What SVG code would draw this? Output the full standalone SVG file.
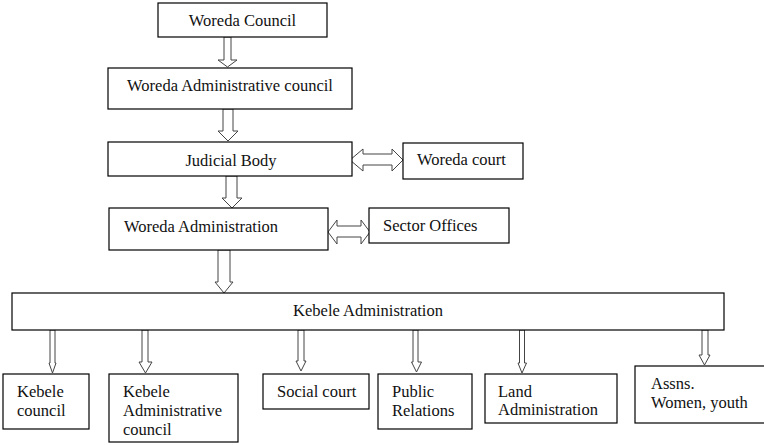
<svg xmlns="http://www.w3.org/2000/svg" width="764" height="445" viewBox="0 0 764 445">
<style>
.box{fill:#fff;stroke:#000;stroke-width:1.2}
.t{font-family:"Liberation Serif","DejaVu Serif",serif;font-size:16.5px;fill:#111}
.arr{fill:#fff;stroke:#444;stroke-width:1}
</style>
<rect width="764" height="445" fill="#fff"/>
<g id="connectors">
<path class="arr" d="M224,37 V60 H218 L227.5,67 L237,60 H231 V37 Z"/>
<path class="arr" d="M223,109 V131 H218 L228,141 L238,131 H233 V109 Z"/>
<path class="arr" d="M226,176 V198 H222 L232,208 L242,198 H237 V176 Z"/>
<path class="arr" d="M218,250 V282 H215 L224,293 L233,282 H230 V250 Z"/>
<path class="arr" d="M350,160 L363,149 V154 H392 V149 L403,160 L392,171 V165 H363 V171 Z"/>
<path class="arr" d="M328,232 L337,220 V226 H361 V220 L370,232 L361,244 V237 H337 V244 Z"/>
<path class="arr" d="M50,330 V363 H49 L52.5,373 L56,363 H55 V330 Z"/>
<path class="arr" d="M142,330 V362 H139 L145.5,373 L152,362 H148 V330 Z"/>
<path class="arr" d="M298,330 V361 H296 L301,371 L306,361 H304 V330 Z"/>
<path class="arr" d="M413,330 V362 H411.5 L416.5,372 L421.5,362 H418 V330 Z"/>
<path class="arr" d="M519.5,330 V363 H518 L522,373 L526.5,363 H524.5 V330 Z"/>
<path class="arr" d="M702,330 V355 H699 L704.5,365 L710,355 H708 V330 Z"/>
</g>
<g id="woreda-council"><rect class="box" x="158" y="3" width="169" height="34"/><text class="t" x="242.5" y="26" text-anchor="middle">Woreda Council</text></g>
<g id="woreda-admin-council"><rect class="box" x="108" y="68" width="244" height="41"/><text class="t" x="230" y="91" text-anchor="middle">Woreda Administrative council</text></g>
<g id="judicial-body"><rect class="box" x="108" y="142" width="244" height="34"/><text class="t" x="231" y="166" text-anchor="middle">Judicial Body</text></g>
<g id="woreda-court"><rect class="box" x="403" y="143" width="120" height="36"/><text class="t" x="417" y="165">Woreda court</text></g>
<g id="woreda-administration"><rect class="box" x="109" y="208" width="219" height="42"/><text class="t" x="124" y="232">Woreda Administration</text></g>
<g id="sector-offices"><rect class="box" x="369" y="208" width="140" height="35"/><text class="t" x="383" y="231">Sector Offices</text></g>
<g id="kebele-administration"><rect class="box" x="12" y="293" width="712" height="37"/><text class="t" x="368" y="316" text-anchor="middle">Kebele Administration</text></g>
<g id="kebele-council"><rect class="box" x="3" y="374" width="86" height="55"/><text class="t" x="17" y="397">Kebele</text><text class="t" x="17" y="416">council</text></g>
<g id="kebele-admin-council"><rect class="box" x="109" y="374" width="129" height="68"/><text class="t" x="123" y="397">Kebele</text><text class="t" x="123" y="416">Administrative</text><text class="t" x="123" y="435">council</text></g>
<g id="social-court"><rect class="box" x="263" y="374" width="106" height="35"/><text class="t" x="277" y="397">Social court</text></g>
<g id="public-relations"><rect class="box" x="378" y="374" width="94" height="55"/><text class="t" x="392" y="397">Public</text><text class="t" x="392" y="416">Relations</text></g>
<g id="land-administration"><rect class="box" x="485" y="374" width="132" height="49"/><text class="t" x="498" y="397">Land</text><text class="t" x="498" y="415">Administration</text></g>
<g id="assns"><rect class="box" x="635" y="366" width="135" height="57"/><text class="t" x="651" y="389">Assns.</text><text class="t" x="651" y="408">Women, youth</text></g>
</svg>
